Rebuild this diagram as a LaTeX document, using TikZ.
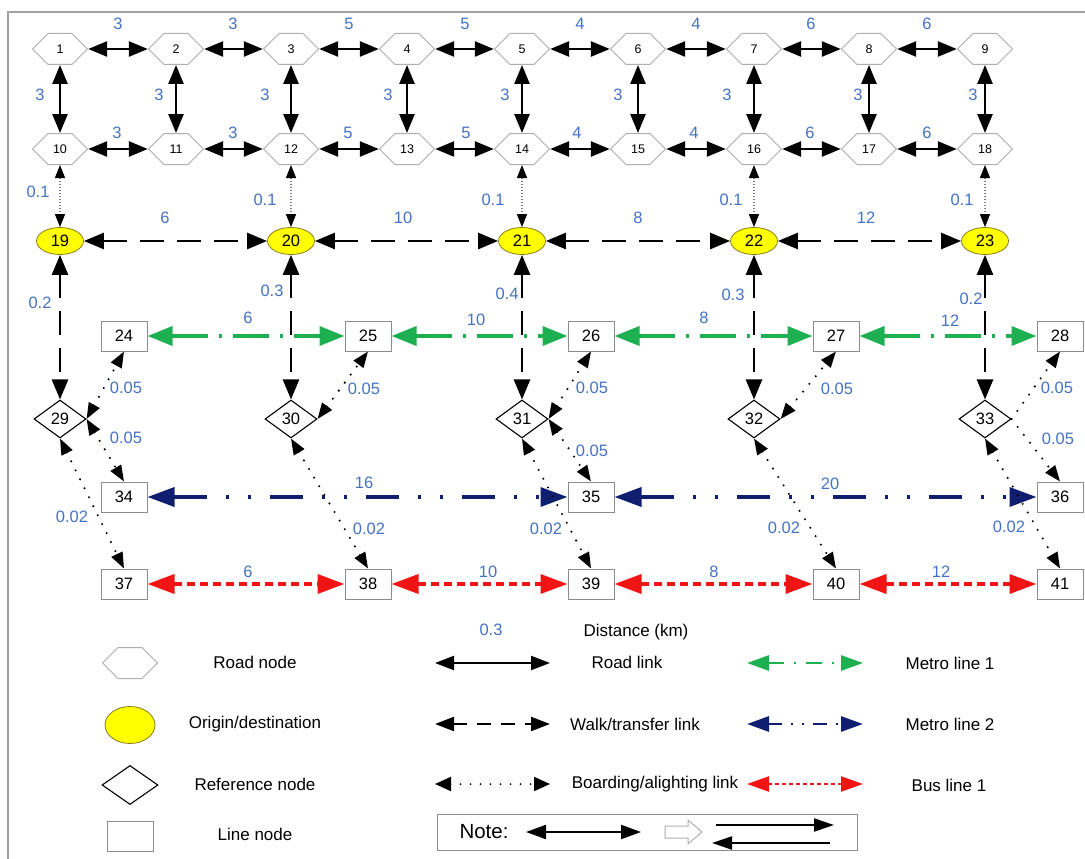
\documentclass[tikz,border=0pt]{standalone}
\usepackage{fontspec}
\setmainfont{Liberation Sans}
\usetikzlibrary{arrows.meta,shapes.geometric,shapes.symbols}
\definecolor{lblue}{RGB}{68,114,196}
\definecolor{hexgray}{RGB}{175,175,175}
\definecolor{boxgray}{RGB}{140,140,140}
\definecolor{odfill}{RGB}{255,255,0}
\definecolor{oddraw}{RGB}{140,125,30}
\definecolor{mgreen}{RGB}{30,175,80}
\definecolor{mnavy}{RGB}{15,30,110}
\definecolor{busred}{RGB}{240,20,20}
\definecolor{framegray}{RGB}{160,160,160}
\begin{document}
\begin{tikzpicture}[x=1pt,y=-1pt,
  hexn/.style={signal, signal to=west and east, draw=hexgray, line width=1pt, fill=white,
    minimum width=55pt, minimum height=31pt, inner sep=0pt, font=\fontsize{12.5}{14}\selectfont},
  odn/.style={ellipse, draw=oddraw, line width=0.8pt, fill=odfill, minimum width=47pt,
    minimum height=27pt, inner sep=0pt, font=\fontsize{16.5}{18}\selectfont},
  refn/.style={diamond, draw=black, line width=1.1pt, fill=white, minimum width=52pt,
    minimum height=38pt, inner sep=0pt, font=\fontsize{16.5}{18}\selectfont},
  linen/.style={rectangle, draw=boxgray, line width=1pt, fill=white, minimum width=46pt,
    minimum height=30pt, inner sep=0pt, font=\fontsize{16.5}{18}\selectfont},
  lab/.style={text=lblue, font=\fontsize{16.5}{18}\selectfont, inner sep=0pt},
  legt/.style={font=\fontsize{17}{19}\selectfont, inner sep=0pt},
  roadl/.style={line width=2.6pt, {Triangle[length=19pt,width=15pt]}-{Triangle[length=19pt,width=15pt]}},
  walkl/.style={line width=2.6pt, dash pattern=on 24pt off 13pt,
    {Triangle[length=20pt,width=16pt]}-{Triangle[length=20pt,width=16pt]}},
  feedl/.style={draw=gray, line width=1.2pt, dash pattern=on 1.2pt off 1.8pt,
    {Triangle[length=13pt,width=10pt,color=black]}-{Triangle[length=13pt,width=10pt,color=black]}},
  boardl/.style={line width=2.3pt, line cap=round, dash pattern=on 0pt off 10pt,
    {Triangle[length=16pt,width=12pt]}-{Triangle[length=16pt,width=12pt]}},
  boardone/.style={line width=2.3pt, line cap=round, dash pattern=on 0pt off 10pt,
    -{Triangle[length=16pt,width=12pt]}},
  mone/.style={draw=mgreen, line width=3.6pt, dash pattern=on 36pt off 11pt on 3pt off 11pt,
    {Triangle[length=25pt,width=19pt]}-{Triangle[length=25pt,width=19pt]}},
  mtwo/.style={draw=mnavy, line width=3.6pt, dash pattern=on 33pt off 19pt on 3pt off 19pt on 3pt off 19pt,
    {Triangle[length=27pt,width=19pt]}-{Triangle[length=27pt,width=19pt]}},
  busl/.style={draw=busred, line width=3.6pt, dash pattern=on 8pt off 5pt,
    {Triangle[length=27pt,width=19pt]}-{Triangle[length=27pt,width=19pt]}},
]
\path[use as bounding box] (0,0) rectangle (1085,859);
\draw[framegray, line width=1.3pt] (1085,12) -- (8,12) -- (8,859);

% road nodes
\foreach \i/\x in {1/60,2/176,3/291,4/407,5/522,6/638,7/754,8/869,9/985}
  \node[hexn] (h\i) at (\x,49) {\i};
\foreach \i/\x in {10/60,11/176,12/291,13/407,14/522,15/638,16/754,17/869,18/985}
  \node[hexn] (h\i) at (\x,149) {\i};
% OD nodes
\foreach \i/\x in {19/60,20/291,21/522,22/754,23/985}
  \node[odn] (n\i) at (\x,241) {\i};
% line nodes and reference nodes
\foreach \i/\x in {24/124,25/368,26/591,27/836,28/1060}
  \node[linen] (n\i) at (\x,336) {\i};
\foreach \i/\x in {29/60,30/291,31/522,32/754,33/985}
  \node[refn] (n\i) at (\x,419) {\i};
\foreach \i/\x in {34/124,35/591,36/1060}
  \node[linen] (n\i) at (\x,497) {\i};
\foreach \i/\x in {37/124,38/368,39/591,40/836,41/1060}
  \node[linen] (n\i) at (\x,584) {\i};

% road links
\foreach \a/\b in {1/2,2/3,3/4,4/5,5/6,6/7,7/8,8/9,10/11,11/12,12/13,13/14,14/15,15/16,16/17,17/18}
  \draw[roadl] (h\a.east) -- (h\b.west);
\foreach \a/\b in {1/10,2/11,3/12,4/13,5/14,6/15,7/16,8/17,9/18}
  \draw[roadl] (h\a.south) -- (h\b.north);
% access links
\foreach \a/\b in {10/19,12/20,14/21,16/22,18/23}
  \draw[feedl] (h\a.south) -- (n\b.north);
% walk links
\foreach \a/\b in {19/20,20/21,21/22,22/23}
  \draw[walkl] (n\a.east) -- (n\b.west);
\foreach \a/\b in {19/29,20/30,21/31,22/32,23/33}
  \draw[walkl] (n\a.south) -- (n\b.north);
% transit lines
\foreach \a/\b in {24/25,25/26,26/27,27/28}
  \draw[mone] (n\a.east) -- (n\b.west);
\foreach \a/\b in {34/35,35/36}
  \draw[mtwo] (n\a.east) -- (n\b.west);
\foreach \a/\b in {37/38,38/39,39/40,40/41}
  \draw[busl] (n\a.east) -- (n\b.west);
% boarding links
\draw[boardl] (n29.east) -- (n24.south);
\draw[boardl] (n29.east) -- (n34.north);
\draw[boardl] (n29.south) -- (n37.north);
\draw[boardl] (n30.east) -- (n25.south);
\draw[boardl] (n30.south) -- (n38.north);
\draw[boardl] (n31.east) -- (n26.south);
\draw[boardl] (n31.east) -- (n35.north);
\draw[boardl] (n31.south) -- (n39.north);
\draw[boardl] (n32.east) -- (n27.south);
\draw[boardl] (n32.south) -- (n40.north);
\draw[boardone] (n33.east) -- (n28.south);
\draw[boardone] (n33.east) -- (n36.north);
\draw[boardl] (n33.south) -- (n41.north);

% distance labels
\foreach \t/\x [count=\k] in {3/118,3/233,5/349,5/465,4/580,4/696,6/811,6/927}
  \node[lab] (ta\k) at (\x,24) {\t};
\foreach \x [count=\k] in {40,159,265,388,505,618,727,858,973}
  \node[lab] (tv\k) at (\x,95) {3};
\foreach \t/\x [count=\k] in {3/117,3/233,5/348,5/466,4/577,4/694,6/810,6/927}
  \node[lab] (tb\k) at (\x,133) {\t};
\foreach \x/\y [count=\k] in {38/192,265/200,493/200,731/200,962/200}
  \node[lab] (tf\k) at (\x,\y) {0.1};
\foreach \t/\x [count=\k] in {6/165,10/403,8/638,12/866}
  \node[lab] (tw\k) at (\x,218) {\t};
\foreach \t/\x/\y [count=\k] in {0.2/40/303,0.3/272/291,0.4/507/294,0.3/733/295,0.2/971/299}
  \node[lab] (tz\k) at (\x,\y) {\t};
\foreach \t/\x/\y [count=\k] in {6/248/318,10/476/320,8/704/318,12/950/321}
  \node[lab] (tg\k) at (\x,\y) {\t};
\node[lab] (tn1) at (364,483) {16};
\node[lab] (tn2) at (830,484) {20};
\foreach \t/\x [count=\k] in {6/248,10/488,8/714,12/941}
  \node[lab] (tr\k) at (\x,572) {\t};
\foreach \t/\x/\y [count=\k] in {0.05/126/388,0.05/126/438,0.02/72/517,
   0.05/364/389,0.02/369/529,
   0.05/592/388,0.05/592/451,0.02/546/529,
   0.05/837/389,0.02/784/528,
   0.05/1057/388,0.05/1058/439,0.02/1009/527}
  \node[lab] (tq\k) at (\x,\y) {\t};

% legend
\node[lab] (lg03) at (491,630) {0.3};
\node[legt] (lgdist) at (636,632) {Distance (km)};
\node[hexn] (lghex) at (130,663) {};
\node[legt] (lghext) at (255,662) {Road node};
\node[odn, minimum width=50pt, minimum height=37pt] (lgod) at (130,725) {};
\node[legt] (lgodt) at (255,724) {Origin/destination};
\node[refn, minimum width=56pt, minimum height=39pt] (lgref) at (130,785) {};
\node[legt] (lgreft) at (255,784) {Reference node};
\node[linen] (lgline) at (130,836) {};
\node[legt] (lglinet) at (255,834) {Line node};

\coordinate (ra) at (435,663); \coordinate (rb) at (550,663);
\coordinate (wa) at (435,724); \coordinate (wb) at (550,724);
\coordinate (ba) at (435,784); \coordinate (bb) at (550,784);
\draw[line width=2.2pt, {Triangle[length=19pt,width=14pt]}-{Triangle[length=19pt,width=14pt]}] (ra) -- (rb);
\draw[line width=2.2pt, dash pattern=on 14pt off 10pt, {Triangle[length=19pt,width=14pt]}-{Triangle[length=19pt,width=14pt]}] (wa) -- (wb);
\draw[line width=2pt, line cap=round, dash pattern=on 0pt off 10pt, {Triangle[length=16pt,width=14pt]}-{Triangle[length=16pt,width=14pt]}] (ba) -- (bb);
\node[legt] (lgroadt) at (627,662) {Road link};
\node[legt] (lgwalkt) at (635,724) {Walk/transfer link};
\node[legt] (lgboardt) at (655,784) {Boarding/alighting link};

\coordinate (ga) at (747,663); \coordinate (gb) at (863,663);
\coordinate (na) at (747,724); \coordinate (nb) at (863,724);
\coordinate (ea) at (747,784); \coordinate (eb) at (863,784);
\draw[draw=mgreen, line width=2.8pt, dash pattern=on 16pt off 10pt on 2pt off 10pt, {Triangle[length=22pt,width=15pt]}-{Triangle[length=22pt,width=15pt]}] (ga) -- (gb);
\draw[draw=mnavy, line width=2.8pt, dash pattern=on 14pt off 9pt on 2pt off 9pt on 2pt off 9pt, {Triangle[length=22pt,width=15pt]}-{Triangle[length=22pt,width=15pt]}] (na) -- (nb);
\draw[draw=busred, line width=2.2pt, dash pattern=on 4pt off 3pt, {Triangle[length=22pt,width=15pt]}-{Triangle[length=22pt,width=15pt]}] (ea) -- (eb);
\node[legt] (lgm1) at (950,663) {Metro line 1};
\node[legt] (lgm2) at (950,724) {Metro line 2};
\node[legt] (lgbus) at (949,785) {Bus line 1};

% note box
\node[draw=boxgray, line width=1pt, minimum width=420pt, minimum height=36pt, inner sep=0pt] (notebox) at (647,832) {};
\node[font=\fontsize{20.5}{23}\selectfont, inner sep=0pt] (notet) at (484,832) {Note:};
\coordinate (nda) at (526,832); \coordinate (ndb) at (641,832);
\draw[line width=2.2pt, {Triangle[length=20pt,width=14pt]}-{Triangle[length=20pt,width=14pt]}] (nda) -- (ndb);
\draw[hexgray, line width=1pt, fill=white] (665,826) -- (688,826) -- (688,820) -- (702,832)
  -- (688,844) -- (688,838) -- (665,838) -- cycle;
\coordinate (t1a) at (716,825); \coordinate (t1b) at (834,825);
\coordinate (t2a) at (830,843); \coordinate (t2b) at (712,843);
\draw[line width=2.2pt, -{Triangle[length=20pt,width=13pt]}] (t1a) -- (t1b);
\draw[line width=2.2pt, -{Triangle[length=20pt,width=13pt]}] (t2a) -- (t2b);
\end{tikzpicture}
\end{document}
